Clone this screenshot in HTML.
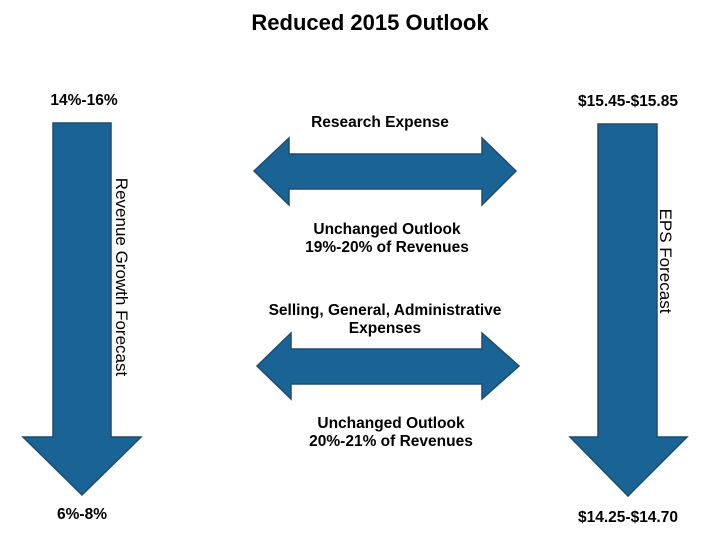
<!DOCTYPE html>
<html><head><style>
body{margin:0;background:#fff;width:719px;height:551px;overflow:hidden;font-family:"Liberation Sans",Arial,sans-serif;}
</style></head><body>
<svg width="719" height="551" xmlns="http://www.w3.org/2000/svg" font-family="Liberation Sans, Arial, sans-serif" font-weight="bold">
<text x="370" y="30" font-size="22" text-anchor="middle">Reduced  2015  Outlook</text>
<g fill="#1a6395" stroke="#1d4c70" stroke-width="1.5">
<polygon points="53,123 111,123 111,437 141,437 82,495 23,437 53,437"/>
<polygon points="598,124 657,124 657,437 687,437 628,496 570,437 598,437"/>
<polygon points="254,171 289,138 289,154 482,154 482,138 516,171 482,205 482,189 289,189 289,205"/>
<polygon points="257,366 291,333 291,349 482,349 482,333 519,366 482,399 482,384 291,384 291,399"/>
</g>
<g font-size="15.5" text-anchor="middle">
<text x="84" y="105">14%-16%</text>
<text x="82" y="519">6%-8%</text>
<text x="628" y="106">$15.45-$15.85</text>
<text x="628" y="522">$14.25-$14.70</text>
<text x="380" y="127">Research Expense</text>
<text x="387" y="234">Unchanged Outlook</text>
<text x="387" y="252">19%-20% of Revenues</text>
<text x="385" y="315">Selling, General, Administrative</text>
<text x="385" y="333">Expenses</text>
<text x="391" y="428">Unchanged Outlook</text>
<text x="391" y="446">20%-21% of Revenues</text>
</g>
<g font-size="17" font-weight="normal" text-anchor="middle">
<text transform="translate(116,277) rotate(90)">Revenue Growth Forecast</text>
<text transform="translate(660,261) rotate(90)">EPS Forecast</text>
</g>
</svg>
</body></html>
